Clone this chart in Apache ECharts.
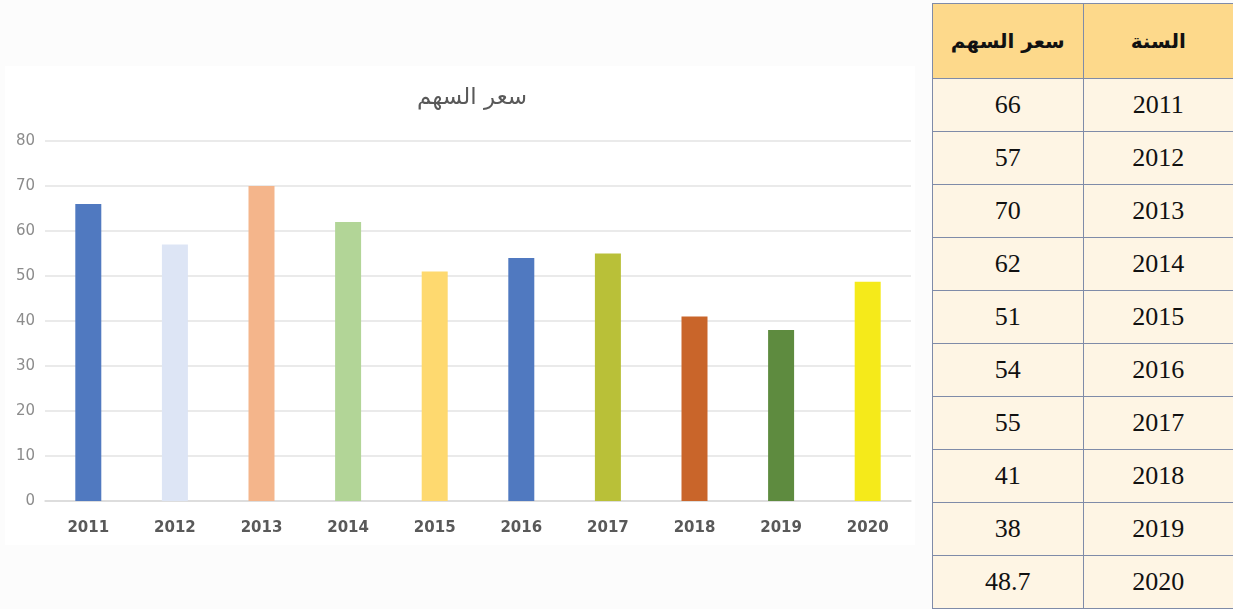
<!DOCTYPE html>
<html>
<head>
<meta charset="utf-8">
<script src="https://cdn.jsdelivr.net/npm/echarts@6/dist/echarts.min.js"></script>
<style>
  html, body { margin: 0; padding: 0; background: #fcfcfc; }
  #chart {
    position: absolute; left: 5px; top: 66px; width: 910px; height: 479px;
    background: #ffffff;
  }
  #tbl {
    position: absolute; left: 932px; top: 3px; width: 302px; height: 605px;
    border-collapse: collapse; direction: rtl; table-layout: fixed;
  }
  #tbl td, #tbl th {
    border: 1.5px solid #7f8ba8; text-align: center; padding: 0; width: 50%;
    font-family: "Liberation Serif", "DejaVu Serif", serif; font-size: 26px; color: #111;
  }
  #tbl th {
    background: #fdd98b; height: 74px; font-family: "DejaVu Sans", sans-serif;
    font-size: 20px; font-weight: bold;
  }
  #tbl td { background: #fef5e4; height: 52px; }
</style>
</head>
<body>
<div id="chart"></div>
<table id="tbl"></table>
<script>
const chartTitle = 'سعر السهم'
const yearHeader = 'السنة'
const priceHeader = 'سعر السهم'
const years = ['2011', '2012', '2013', '2014', '2015', '2016', '2017', '2018', '2019', '2020']
const prices = [66, 57, 70, 62, 51, 54, 55, 41, 38, 48.7]
const barColors = ['#5079c0', '#dde5f5', '#f4b58b', '#b2d597', '#fed96f', '#5079c0', '#b9c038', '#c9652a', '#5e8b3f', '#f5ea1a']

// table on the right
let html = '<tr><th>' + yearHeader + '</th><th>' + priceHeader + '</th></tr>'
years.forEach((y, i) => {
  html += '<tr><td>' + y + '</td><td>' + prices[i] + '</td></tr>'
})
document.getElementById('tbl').innerHTML = html

const chart = echarts.init(document.getElementById('chart'))
chart.setOption({
  animation: false,
  title: {
    text: chartTitle,
    left: 462,
    top: 16,
    textAlign: 'center',
    textStyle: {
      fontFamily: 'DejaVu Sans',
      fontWeight: 'normal',
      fontSize: 23,
      color: '#595959',
    },
  },
  grid: {
    left: 40,
    right: 4,
    top: 75,
    bottom: 44,
  },
  xAxis: {
    type: 'category',
    data: years,
    axisLine: { lineStyle: { color: '#d9d9d9', width: 1.5 } },
    axisTick: { show: false },
    axisLabel: {
      color: '#595959',
      fontSize: 15,
      fontWeight: 'bold',
      fontFamily: 'DejaVu Sans',
      margin: 20,
    },
  },
  yAxis: {
    type: 'value',
    min: 0,
    max: 80,
    interval: 10,
    axisLine: { show: false },
    axisTick: { show: false },
    splitLine: { lineStyle: { color: '#e3e3e3', width: 1.5 } },
    axisLabel: {
      color: '#8c8c8c',
      fontSize: 15,
      fontFamily: 'DejaVu Sans',
      margin: 10,
    },
  },
  series: [
    {
      type: 'bar',
      barWidth: 26,
      data: prices.map((v, i) => ({ value: v, itemStyle: { color: barColors[i] } })),
    },
  ],
})
</script>
</body>
</html>
